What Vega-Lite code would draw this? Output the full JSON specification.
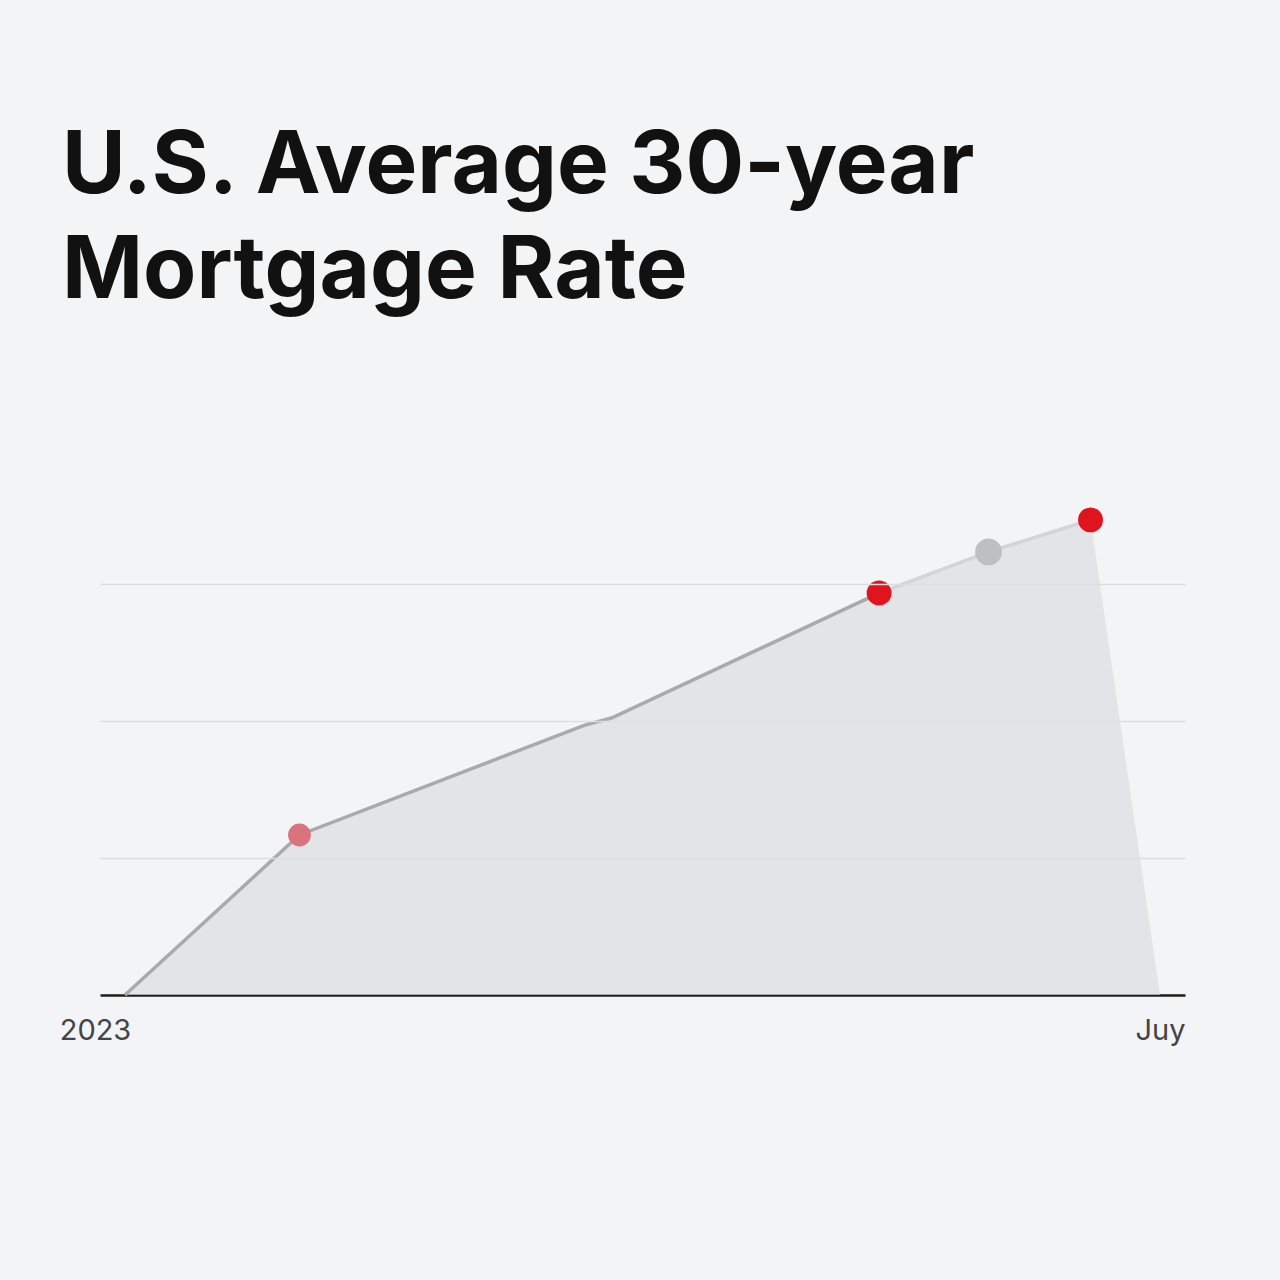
{
  "$schema": "https://vega.github.io/schema/vega-lite/v6.json",
  "autosize": "none",
  "width": 1085,
  "height": 548,
  "padding": {"left": 100, "right": 95, "top": 447, "bottom": 285},
  "background": "#f3f4f6",
  "title": {
    "text": ["U.S. Average 30-year", "Mortgage Rate"],
    "anchor": "start",
    "frame": "group",
    "dx": -38,
    "offset": 62,
    "baseline": "alphabetic",
    "font": "Inter",
    "fontSize": 87,
    "fontWeight": 700,
    "lineHeight": 105,
    "color": "#111111"
  },
  "datasets": {
    "area": [
      {"month": 0, "rate": 6.0},
      {"month": 1.18, "rate": 6.584},
      {"month": 3.11, "rate": 6.985},
      {"month": 3.29, "rate": 7.011},
      {"month": 5.10, "rate": 7.467},
      {"month": 5.84, "rate": 7.617},
      {"month": 6.53, "rate": 7.734},
      {"month": 7.0, "rate": 6.0}
    ],
    "line": [
      {"month": 0, "rate": 6.0, "segment": "past"},
      {"month": 1.18, "rate": 6.584, "segment": "past"},
      {"month": 3.11, "rate": 6.985, "segment": "past"},
      {"month": 3.29, "rate": 7.011, "segment": "past"},
      {"month": 5.10, "rate": 7.467, "segment": "past"},
      {"month": 5.10, "rate": 7.467, "segment": "recent"},
      {"month": 5.84, "rate": 7.617, "segment": "recent"},
      {"month": 6.53, "rate": 7.734, "segment": "recent"}
    ],
    "points": [
      {"month": 1.18, "rate": 6.584, "kind": "early"},
      {"month": 5.10, "rate": 7.467, "kind": "high"},
      {"month": 5.84, "rate": 7.617, "kind": "neutral"},
      {"month": 6.53, "rate": 7.734, "kind": "high"}
    ]
  },
  "layer": [
    {
      "data": {"name": "area"},
      "mark": {"type": "area", "color": "#d9dade", "opacity": 0.62},
      "encoding": {
        "x": {
          "field": "month",
          "type": "quantitative",
          "scale": {"domain": [-0.169, 7.169], "nice": false, "zero": false},
          "axis": {
            "values": [0, 7],
            "labelExpr": "datum.value == 0 ? '2023' : 'Juy'",
            "labelOffset": {"condition": {"test": "datum.value == 0", "value": -30}, "value": 0},
            "title": null,
            "grid": false,
            "ticks": false,
            "domainColor": "#1e1e1e",
            "domainWidth": 2.5,
            "labelFont": "Inter",
            "labelFontSize": 29,
            "labelColor": "#444444",
            "labelPadding": 21,
            "labelFlush": false
          }
        },
        "y": {
          "field": "rate",
          "type": "quantitative",
          "scale": {"domain": [6, 8], "nice": false, "zero": false},
          "axis": {
            "values": [6.5, 7, 7.5],
            "title": null,
            "labels": false,
            "ticks": false,
            "domain": false,
            "grid": true,
            "gridColor": "#dcdde0",
            "gridWidth": 1.5,
            "zindex": 1
          }
        },
        "y2": {"datum": 6}
      }
    },
    {
      "data": {"name": "line"},
      "mark": {"type": "line", "strokeWidth": 3.5},
      "encoding": {
        "x": {"field": "month", "type": "quantitative"},
        "y": {"field": "rate", "type": "quantitative"},
        "detail": {"field": "segment"},
        "color": {
          "field": "segment",
          "type": "nominal",
          "scale": {"domain": ["past", "recent"], "range": ["#a9aaac", "#d2d4d6"]},
          "legend": null
        }
      }
    },
    {
      "data": {"name": "points"},
      "mark": {"type": "circle", "opacity": 1},
      "encoding": {
        "x": {"field": "month", "type": "quantitative"},
        "y": {"field": "rate", "type": "quantitative"},
        "color": {
          "field": "kind",
          "type": "nominal",
          "scale": {"domain": ["early", "high", "neutral"], "range": ["#d9737c", "#e0141f", "#bcc0c3"]},
          "legend": null
        },
        "size": {
          "field": "kind",
          "type": "nominal",
          "scale": {"domain": ["early", "high", "neutral"], "range": [520, 720, 460]},
          "legend": null
        }
      }
    }
  ],
  "resolve": {"scale": {"color": "independent"}},
  "config": {
    "view": {"stroke": null}
  }
}
